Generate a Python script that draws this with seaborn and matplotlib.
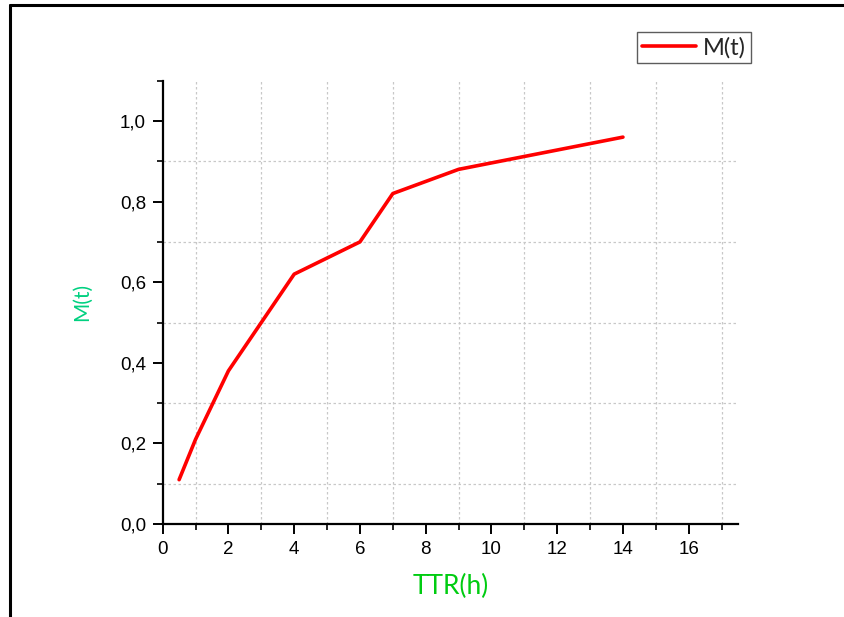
import matplotlib
matplotlib.use("Agg")
import matplotlib.pyplot as plt
from matplotlib.lines import Line2D
from matplotlib.ticker import MultipleLocator, FuncFormatter
import seaborn as sns
import pandas as pd

# Maintainability curve M(t) against time to repair
ttr_hours = [0.5, 1, 2, 4, 6, 7, 9, 14]
m_values = [0.11, 0.21, 0.38, 0.62, 0.70, 0.82, 0.88, 0.96]
series_name = "M(t)"
x_label = "TTR(h)"
y_label = "M(t)"

df = pd.DataFrame({"TTR": ttr_hours, "M": m_values, "serie": series_name})

sns.set_style("ticks")
plt.rcParams["font.family"] = ["Liberation Sans", "DejaVu Sans"]

fig = plt.figure(figsize=(8.45, 6.17), dpi=100)
ax = fig.add_axes([0.1925, 0.1507, 0.8734 - 0.1925, 0.8692 - 0.1507])

sns.lineplot(data=df, x="TTR", y="M", hue="serie", palette=["#ff0000"],
             linewidth=2.6, ax=ax, legend=False, zorder=3)

ax.set_xlim(0, 17.5)
ax.set_ylim(0, 1.1)
ax.xaxis.set_major_locator(MultipleLocator(2))
ax.xaxis.set_minor_locator(MultipleLocator(1))
ax.yaxis.set_major_locator(MultipleLocator(0.2))
ax.yaxis.set_minor_locator(MultipleLocator(0.1))
ax.yaxis.set_major_formatter(FuncFormatter(lambda v, p: f"{v:.1f}".replace(".", ",")))

# dotted grid on the minor positions only
for xv in range(1, 18, 2):
    ax.axvline(xv, color="#c8c8c8", lw=0.9, ls=(0, (2, 2)), zorder=1)
for yv in [0.1, 0.3, 0.5, 0.7, 0.9]:
    ax.axhline(yv, color="#c8c8c8", lw=0.9, ls=(0, (2, 2)), zorder=1)

for side in ["top", "right"]:
    ax.spines[side].set_visible(False)
for side in ["left", "bottom"]:
    ax.spines[side].set_linewidth(1.6)
    ax.spines[side].set_color("black")

ax.tick_params(which="major", direction="out", length=7, width=1.4,
               labelsize=13.5, colors="black", pad=5)
ax.tick_params(which="minor", direction="out", length=4, width=1.2, colors="black")
for lab in ax.get_xticklabels() + ax.get_yticklabels():
    lab.set_family(["Liberation Sans", "DejaVu Sans"])

ax.set_xlabel(x_label, color="#00cc11", fontsize=19, family=["Lato", "DejaVu Sans"], labelpad=12)
ax.set_ylabel(y_label, color="#00d080", fontsize=15, family=["Lato", "DejaVu Sans"], labelpad=20)

handle = Line2D([], [], color="#ff0000", lw=2.6)
leg = fig.legend([handle], [series_name], loc="upper left",
                 bbox_to_anchor=(637 / 845, 1 - 32 / 617),
                 frameon=True, fancybox=False, edgecolor="#333333",
                 prop={"family": ["Lato", "DejaVu Sans"], "size": 17},
                 handlelength=2.3, handletextpad=0.3, borderpad=0.2,
                 borderaxespad=0.0)
leg.get_frame().set_linewidth(1.0)

# outer frame edges of the figure
fig.add_artist(Line2D([10 / 845, 10 / 845], [0, 1 - 5 / 617], color="black", lw=2.2,
                      transform=fig.transFigure))
fig.add_artist(Line2D([10 / 845, 1], [1 - 5 / 617, 1 - 5 / 617], color="black", lw=2.2,
                      transform=fig.transFigure))

fig.savefig("out.png", dpi=100)
